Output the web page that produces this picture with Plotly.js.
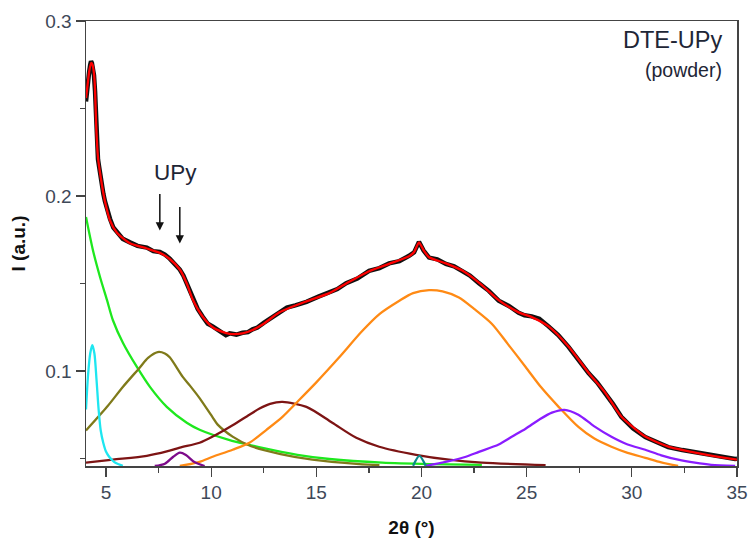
<!DOCTYPE html>
<html>
<head>
<meta charset="utf-8">
<script src="https://cdn.plot.ly/plotly-3.0.1.min.js"></script>
<style>html,body{margin:0;padding:0;background:#fff;}#chart{width:749px;height:540px;}</style>
</head>
<body>
<div id="chart"></div>
<script>
// Measured data (black, noisy)
const dataX = [4.05,4.10,4.15,4.2,4.25,4.29,4.33,4.38,4.43,4.48,4.53,4.58,4.62,4.67,4.72,4.77,4.81,4.88,4.95,5.05,5.19,5.35,5.52,5.8,6.14,6.5,6.94,7.25,7.56,7.8,8.03,8.27,8.51,8.68,8.84,8.98,9.12,9.36,9.60,9.84,10.07,10.3,10.5,10.7,10.88,11.2,11.49,11.75,11.97,12.2,12.5,12.9,13.25,13.6,14.0,14.53,15.1,15.62,16.0,16.42,16.95,17.51,18.0,18.46,18.95,19.41,19.65,19.88,20.1,20.36,20.75,21.16,21.55,21.92,22.3,22.73,23.2,23.67,24.15,24.62,24.9,25.24,25.6,26.04,26.5,26.99,27.45,27.94,28.35,28.74,29.1,29.50,30.05,30.64,31.2,31.73,32.4,33.01,34.0,34.91,35.0];
const dataY = [0.254,0.262,0.266,0.271,0.275,0.277,0.276,0.273,0.269,0.260,0.242,0.230,0.221,0.217,0.212,0.209,0.206,0.201,0.197,0.192,0.187,0.182,0.1795,0.1755,0.1735,0.1715,0.1705,0.1685,0.168,0.1665,0.1642,0.1615,0.158,0.1545,0.150,0.1455,0.1415,0.1355,0.131,0.127,0.1255,0.1235,0.1222,0.1205,0.1215,0.1208,0.1218,0.1222,0.1238,0.1248,0.1275,0.1305,0.1338,0.1362,0.1375,0.1395,0.1425,0.1448,0.1468,0.1502,0.1528,0.1572,0.1588,0.1615,0.1628,0.1658,0.1678,0.1738,0.1688,0.1648,0.1638,0.1612,0.1598,0.1572,0.1545,0.1502,0.1458,0.1402,0.1372,0.1332,0.1318,0.1312,0.1298,0.1255,0.1205,0.1138,0.1065,0.0988,0.0935,0.0872,0.0812,0.0738,0.0672,0.0622,0.0592,0.0565,0.0548,0.0535,0.0512,0.0497,0.0498];
// Total fit (red)
const fitX = [4.05,4.12,4.2,4.29,4.36,4.43,4.48,4.53,4.62,4.72,4.81,4.95,5.19,5.52,6.14,6.94,7.56,8.03,8.51,8.84,9.12,9.60,10.07,10.5,10.88,11.49,11.97,12.5,13.25,14.53,15.62,16.42,17.51,18.46,19.41,19.65,19.88,20.1,20.36,21.16,21.92,22.73,23.67,24.62,25.24,26.04,26.99,27.94,28.74,29.50,30.64,31.73,33.01,34.91,35.0];
const fitY = [0.256,0.263,0.271,0.276,0.275,0.270,0.261,0.241,0.222,0.213,0.206,0.197,0.186,0.179,0.173,0.170,0.1675,0.164,0.158,0.150,0.141,0.131,0.125,0.1225,0.1212,0.1215,0.1234,0.127,0.1335,0.1398,0.1445,0.1500,0.1570,0.1612,0.1655,0.168,0.1735,0.169,0.1650,0.1615,0.1575,0.1505,0.1405,0.1335,0.1308,0.1255,0.1140,0.0990,0.0875,0.0740,0.0625,0.0568,0.0534,0.0495,0.0494];
// Components
const cyanX = [4.05,4.15,4.25,4.35,4.45,4.55,4.65,4.75,4.87,5.0,5.15,5.3,5.45,5.6,5.8];
const cyanY = [0.078,0.098,0.110,0.1148,0.110,0.095,0.078,0.066,0.059,0.054,0.051,0.049,0.0475,0.0467,0.0458];
const greenX = [4.05,4.38,4.72,5.05,5.33,5.81,6.47,7.09,7.89,8.84,9.45,10.88,11.82,12.44,14.1,15.62,18.13,20.5,22.87];
const greenY = [0.188,0.169,0.1536,0.1405,0.129,0.116,0.1023,0.0909,0.0795,0.0704,0.0664,0.0605,0.0578,0.0560,0.0521,0.0497,0.0476,0.0468,0.0464];
const oliveX = [4.05,5.05,5.81,6.61,7.0,7.46,7.8,8.03,8.65,9.0,9.45,10.07,10.3,11.02,11.9,13.3,14.81,17.04,18.0];
const oliveY = [0.066,0.0795,0.091,0.102,0.1075,0.1108,0.110,0.1078,0.0966,0.0915,0.0845,0.0735,0.0695,0.0625,0.0570,0.0525,0.0493,0.0468,0.0462];
const purpleX = [7.32,7.8,8.2,8.51,8.8,9.2,9.69];
const purpleY = [0.0457,0.047,0.051,0.0533,0.052,0.048,0.0457];
const maroonX = [4.05,5.33,6.94,7.89,8.51,9.45,10.07,11.02,11.82,12.3,12.8,13.39,14.53,15.76,16.9,17.99,19.74,21.30,22.87,25.90];
const maroonY = [0.0476,0.0493,0.0515,0.0540,0.0562,0.0590,0.0625,0.0690,0.0750,0.0785,0.0812,0.0823,0.0795,0.0704,0.0618,0.0567,0.0521,0.0493,0.0476,0.0462];
const orangeX = [8.51,9.45,10.07,11.02,11.82,12.63,13.39,14.05,15.0,16.09,17.18,18.0,18.93,19.6,20.36,21.0,21.78,22.5,23.34,24.1,24.95,25.7,26.52,27.46,28.2,29.03,29.8,30.64,31.4,32.2];
const orangeY = [0.0457,0.0481,0.051,0.055,0.059,0.0664,0.0738,0.0818,0.0935,0.1078,0.1228,0.1325,0.140,0.1445,0.1462,0.1455,0.142,0.1355,0.127,0.1155,0.1023,0.0905,0.0795,0.068,0.0615,0.0567,0.0532,0.0504,0.0478,0.0457];
const tealX = [19.6,19.9,20.2];
const tealY = [0.0458,0.0515,0.0458];
const violetX = [20.21,21.2,22.11,22.73,23.67,24.29,24.95,25.57,26.2,26.8,27.46,28.2,29.03,29.8,30.64,31.4,32.2,33.0,33.77,34.91];
const violetY = [0.0458,0.0482,0.051,0.0538,0.058,0.0624,0.067,0.072,0.0762,0.0778,0.075,0.0685,0.0624,0.058,0.055,0.0518,0.0493,0.0476,0.0464,0.0458];

function comp(x, y, color) {
  return {x: x, y: y, type: 'scatter', mode: 'lines', line: {color: color, width: 2.3, shape: 'spline', smoothing: 0.8}, hoverinfo: 'skip', showlegend: false};
}
const traces = [
  comp(greenX, greenY, '#1ee81e'),
  comp(oliveX, oliveY, '#7f7a1a'),
  comp(maroonX, maroonY, '#7d1414'),
  comp(orangeX, orangeY, '#ff8a14'),
  comp(violetX, violetY, '#8a1cff'),
  comp(cyanX, cyanY, '#1ee6f0'),
  comp(purpleX, purpleY, '#7d0a8a'),
  comp(tealX, tealY, '#0a8a8a'),
  {x: dataX, y: dataY, type: 'scatter', mode: 'lines', line: {color: '#111111', width: 4.5}, hoverinfo: 'skip', showlegend: false},
  {x: fitX, y: fitY, type: 'scatter', mode: 'lines', line: {color: '#ff0000', width: 2.3, shape: 'spline', smoothing: 0.6}, hoverinfo: 'skip', showlegend: false}
];

const tickFont = {family: 'Liberation Sans, Arial, sans-serif', size: 19, color: '#3e4858'};
const layout = {
  width: 749, height: 540,
  margin: {l: 86, r: 12, t: 21, b: 74},
  paper_bgcolor: '#ffffff', plot_bgcolor: '#ffffff',
  showlegend: false,
  xaxis: {
    range: [4.05, 35], tickvals: [5,10,15,20,25,30,35], ticktext: ['5','10','15','20','25','30','35'],
    ticks: 'outside', ticklen: 9, tickwidth: 1.3, tickcolor: '#444',
    minor: {tickvals: [7.5,12.5,17.5,22.5,27.5,32.5], ticks: 'outside', ticklen: 5, tickwidth: 1.3, tickcolor: '#444'},
    showline: true, linecolor: '#444', linewidth: 1.5, mirror: true,
    showgrid: false, zeroline: false, tickfont: tickFont,
    title: {text: '<b>2θ (°)</b>', font: {family: 'Liberation Sans, Arial, sans-serif', size: 19, color: '#111'}, standoff: 18}
  },
  yaxis: {
    range: [0.0457, 0.3], tickvals: [0.1,0.2,0.3], ticktext: ['0.1','0.2','0.3'],
    ticks: 'outside', ticklen: 9, tickwidth: 1.3, tickcolor: '#444',
    minor: {tickvals: [0.05,0.15,0.25], ticks: 'outside', ticklen: 5, tickwidth: 1.3, tickcolor: '#444'},
    showline: true, linecolor: '#444', linewidth: 1.5, mirror: true,
    showgrid: false, zeroline: false, tickfont: tickFont,
    title: {text: '<b>I (a.u.)</b>', font: {family: 'Liberation Sans, Arial, sans-serif', size: 19, color: '#111'}, standoff: 14}
  },
  annotations: [
    {xref: 'paper', yref: 'paper', x: 0.98, y: 0.957, xanchor: 'right', yanchor: 'middle', text: 'DTE-UPy', showarrow: false,
     font: {family: 'Liberation Sans, Arial, sans-serif', size: 23.5, color: '#1e2636'}},
    {xref: 'paper', yref: 'paper', x: 0.98, y: 0.89, xanchor: 'right', yanchor: 'middle', text: '(powder)', showarrow: false,
     font: {family: 'Liberation Sans, Arial, sans-serif', size: 19.5, color: '#1e2636'}},
    {xref: 'x', yref: 'y', x: 8.3, y: 0.2135, xanchor: 'center', yanchor: 'middle', text: 'UPy', showarrow: false,
     font: {family: 'Liberation Sans, Arial, sans-serif', size: 22.5, color: '#1e2636'}},
    {xref: 'x', yref: 'y', x: 7.56, y: 0.1803, text: '', showarrow: true, ax: 0, ay: -38, arrowhead: 2, arrowsize: 1.1, arrowwidth: 1.5, arrowcolor: '#111'},
    {xref: 'x', yref: 'y', x: 8.51, y: 0.1729, text: '', showarrow: true, ax: 0, ay: -38, arrowhead: 2, arrowsize: 1.1, arrowwidth: 1.5, arrowcolor: '#111'}
  ]
};
Plotly.newPlot('chart', traces, layout, {displayModeBar: false, staticPlot: true});
</script>
</body>
</html>
